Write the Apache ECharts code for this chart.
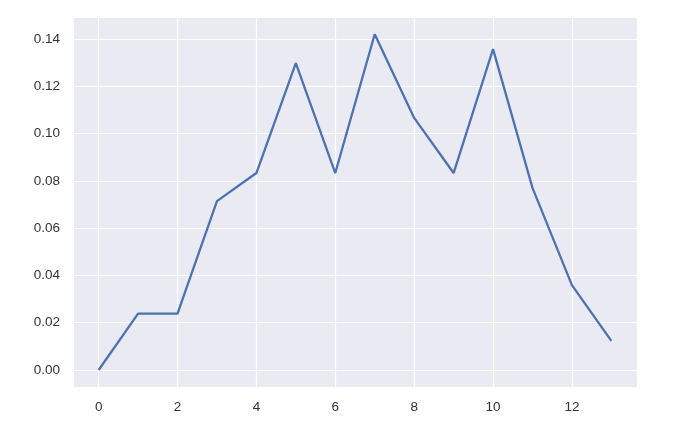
<!DOCTYPE html>
<html>
<head>
<meta charset="utf-8">
<script src="https://cdn.jsdelivr.net/npm/echarts@6/dist/echarts.min.js"></script>
<style>
  html, body { margin: 0; padding: 0; background: #fff; }
  #chart { width: 674px; height: 431px; }
</style>
</head>
<body>
<div id="chart"></div>
<script>
// x positions and values
const xValues = [0, 1, 2, 3, 4, 5, 6, 7, 8, 9, 10, 11, 12, 13]
const yValues = [0.0, 0.0238, 0.0238, 0.0714, 0.0833, 0.1298, 0.0833, 0.1420, 0.1066, 0.0833, 0.1357, 0.0770, 0.0359, 0.0123]

const points = xValues.map((x, i) => [x, yValues[i]])

const chart = echarts.init(document.getElementById('chart'))

const labelStyle = {
  color: '#333333',
  fontFamily: 'Liberation Sans, Arial, sans-serif',
  fontSize: 13.5
}

const option = {
  animation: false,
  backgroundColor: '#ffffff',
  grid: {
    left: 73,
    right: 37,
    top: 17,
    bottom: 44,
    show: true,
    backgroundColor: '#EAEAF2',
    borderWidth: 0
  },
  xAxis: {
    type: 'value',
    min: -0.65,
    max: 13.65,
    splitNumber: 7,
    axisLine: { show: false },
    axisTick: { show: false },
    axisLabel: Object.assign({ margin: 13, showMinLabel: false, showMaxLabel: false }, labelStyle),
    splitLine: { show: true, lineStyle: { color: '#ffffff', width: 1.2 } }
  },
  yAxis: {
    type: 'value',
    min: -0.0072,
    max: 0.1493,
    splitNumber: 8,
    axisLine: { show: false },
    axisTick: { show: false },
    axisLabel: Object.assign({
      margin: 13,
      showMinLabel: false,
      showMaxLabel: false,
      formatter: v => v.toFixed(2)
    }, labelStyle),
    splitLine: { show: true, lineStyle: { color: '#ffffff', width: 1.2 } }
  },
  series: [
    {
      type: 'line',
      data: points,
      showSymbol: false,
      lineStyle: { color: '#4C72B0', width: 2.3 },
      itemStyle: { color: '#4C72B0' }
    }
  ]
}

chart.setOption(option)
</script>
</body>
</html>
